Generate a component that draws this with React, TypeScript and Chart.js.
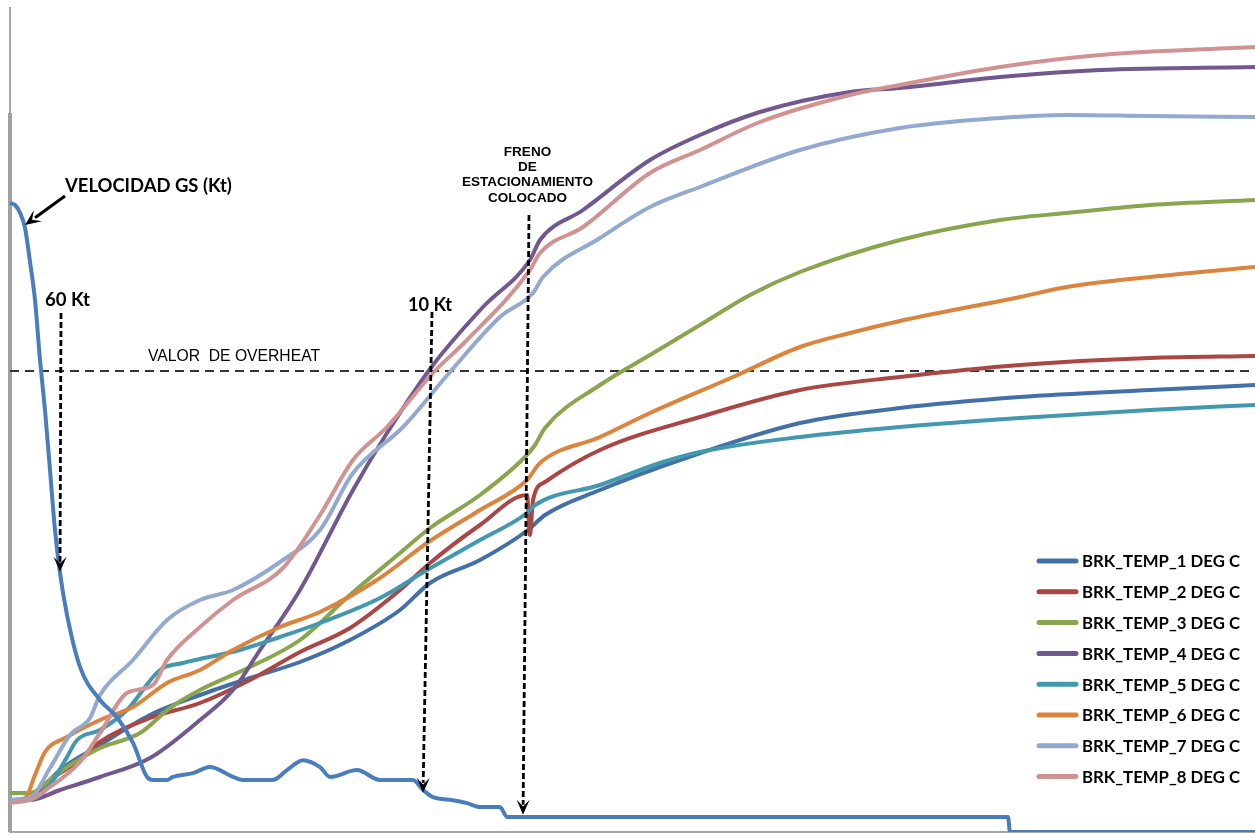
import React, { useEffect, useRef } from "react";
import { Chart, registerables } from "chart.js";

Chart.register(...registerables);

type Pt = [number, number];

// x: time since touchdown (chart units), y: brake temperature (chart units)
const brkTemp1: Pt[] = [[0,32],[15,32],[30,42],[50,62],[90,87],[140,117],[190,137],[240,154],[290,170],[340,192],[390,222],[420,249],[470,272],[518,302],[535,317],[590,342],[670,372],[790,409],[890,424],[1010,435],[1140,442],[1245,447]];
const brkTemp2: Pt[] = [[0,32],[20,34],[40,52],[70,72],[90,90],[140,114],[190,129],[240,152],[290,180],[340,204],[390,242],[420,269],[470,307],[517,337],[520,297],[523,332],[535,350],[590,382],[690,415],[790,442],[890,455],[1010,467],[1140,474],[1245,476]];
const brkTemp3: Pt[] = [[0,39],[20,39],[40,52],[60,67],[90,84],[130,99],[160,124],[190,142],[240,165],[290,192],[340,237],[390,279],[420,304],[470,337],[515,375],[525,387],[535,404],[590,447],[640,477],[690,507],[740,537],[790,560],[890,592],[990,612],[1057,619],[1140,627],[1245,632]];
const brkTemp4: Pt[] = [[0,32],[20,32],[50,42],[90,55],[140,74],[190,112],[223,142],[250,182],[290,242],[343,342],[377,399],[423,467],[473,525],[520,572],[530,592],[573,622],[640,672],[690,697],[750,720],[840,740],[890,744],[990,755],[1090,762],[1245,765]];
const brkTemp5: Pt[] = [[0,32],[20,32],[40,47],[57,75],[67,92],[90,102],[117,122],[150,162],[173,169],[230,182],[270,195],[310,209],[370,234],[417,262],[470,292],[517,319],[525,327],[590,347],[650,369],[690,380],[790,395],[890,405],[1010,414],[1140,422],[1245,427]];
const brkTemp6: Pt[] = [[0,32],[15,34],[25,57],[35,80],[57,95],[90,112],[123,125],[157,149],[190,162],[223,182],[270,205],[310,220],[370,254],[417,289],[470,322],[517,352],[530,369],[590,395],[640,419],[723,455],[790,485],[840,499],[890,511],[1010,535],[1057,545],[1140,555],[1245,565]];
const brkTemp7: Pt[] = [[0,32],[20,34],[40,64],[60,97],[80,114],[90,137],[123,172],[157,212],[190,232],[223,242],[273,272],[310,302],[343,359],[393,405],[440,460],[490,515],[523,539],[533,555],[590,594],[640,625],[690,645],[790,682],[890,704],[990,714],[1057,717],[1140,716],[1245,715]];
const brkTemp8: Pt[] = [[0,29],[20,32],[40,45],[70,70],[90,99],[117,139],[143,147],[157,172],[190,205],[223,232],[273,264],[310,317],[343,372],[377,405],[423,459],[457,492],[520,562],[530,579],[573,605],[640,659],[690,682],[750,710],[840,737],[890,747],[990,765],[1090,777],[1245,785]];

// ground speed in knots
const velocityGS: Pt[] = [[0,146.3],[5,145.8],[10,144.0],[15,140.5],[20,132.6],[25,123.7],[30,109.8],[35,98.1],[40,84.2],[45,70.2],[50,60.2],[57,50.5],[70,38.4],[90,30.7],[107,26.7],[123,20.7],[137,12.8],[143,12.1],[157,12.1],[163,12.8],[183,13.7],[200,15.1],[223,12.8],[233,12.1],[263,12.1],[277,14.4],[293,16.7],[310,15.1],[320,12.8],[347,14.4],[370,12.1],[403,12.1],[413,9.8],[423,8.1],[443,7.4],[457,6.7],[470,5.8],[490,5.8],[497,3.5],[998,3.5],[1000,0],[1245,0]];

const seriesNames = ["BRK_TEMP_1 DEG C","BRK_TEMP_2 DEG C","BRK_TEMP_3 DEG C","BRK_TEMP_4 DEG C","BRK_TEMP_5 DEG C","BRK_TEMP_6 DEG C","BRK_TEMP_7 DEG C","BRK_TEMP_8 DEG C"];
const seriesData = [brkTemp1, brkTemp2, brkTemp3, brkTemp4, brkTemp5, brkTemp6, brkTemp7, brkTemp8];
const seriesColors = ["#4470A8","#AA4643","#89A54E","#71588F","#4198AF","#DB843D","#93A9CF","#D19392"];
const velocityColor = "#4A7EBB";

const overheatLevel = 461;
const timeRange: Pt = [0, 1245];
const tempRange: Pt = [0, 824];
const speedRange: Pt = [0, 191.6];

// event markers: arrow top (time, temp), arrow tip (time, speed)
const eventTimesTop = [51, 422, 519];
const eventTempsTop = [519, 520, 617];
const eventTimesTip = [50, 413, 513];
const eventSpeedsTip = [60.5, 9.1, 4.0];

const toXY = (arr: Pt[]) => arr.map(([x, y]) => ({ x, y }));

const FONT_BOLD = "'Lato', 'Liberation Sans', sans-serif";
const FONT_ARIAL = "'Liberation Sans', Arial, sans-serif";

function fitFont(ctx: CanvasRenderingContext2D, text: string, weight: string, family: string, width: number) {
  ctx.font = `${weight} 20px ${family}`;
  const w = ctx.measureText(text).width;
  return `${weight} ${((20 * width) / w).toFixed(2)}px ${family}`;
}

function arrowHead(ctx: CanvasRenderingContext2D, tx: number, ty: number, fx: number, fy: number, len = 15, half = 6.5) {
  const ang = Math.atan2(ty - fy, tx - fx);
  ctx.save();
  ctx.translate(tx, ty);
  ctx.rotate(ang);
  ctx.setLineDash([]);
  ctx.beginPath();
  ctx.moveTo(0, 0);
  ctx.lineTo(-len, -half);
  ctx.lineTo(-len * 0.55, 0);
  ctx.lineTo(-len, half);
  ctx.closePath();
  ctx.fill();
  ctx.restore();
}

const annotationPlugin = {
  id: "brkAnnotations",
  beforeDatasetsDraw(chart: any) {
    const { ctx, chartArea, scales } = chart;
    const y = scales.y;
    ctx.save();
    ctx.fillStyle = "#A0A0A0";
    const yTop = y.getPixelForValue(719);
    ctx.fillRect(chartArea.left - 2, yTop, 4, chartArea.bottom - yTop);
    ctx.restore();
  },
  afterDatasetsDraw(chart: any) {
    const { ctx, scales } = chart;
    const x = scales.x, y = scales.y, yv = scales.yv;
    ctx.save();
    ctx.fillStyle = "#000";
    ctx.strokeStyle = "#000";
    ctx.textBaseline = "middle";

    for (let i = 0; i < eventTimesTop.length; i++) {
      const x0 = x.getPixelForValue(eventTimesTop[i]);
      const y0 = y.getPixelForValue(eventTempsTop[i]);
      const x1 = x.getPixelForValue(eventTimesTip[i]);
      const y1 = yv.getPixelForValue(eventSpeedsTip[i]);
      ctx.lineWidth = 2.8;
      ctx.setLineDash([6, 3]);
      ctx.beginPath();
      ctx.moveTo(x0, y0);
      ctx.lineTo(x1 + (x0 - x1) * (10 / (y1 - y0)), y1 - 10);
      ctx.stroke();
      arrowHead(ctx, x1, y1, x0, y0);
    }

    {
      const fx = x.getPixelForValue(55), fy = y.getPixelForValue(636);
      const tx = x.getPixelForValue(15), ty = y.getPixelForValue(607);
      ctx.setLineDash([]);
      ctx.lineWidth = 3;
      ctx.beginPath();
      ctx.moveTo(fx, fy);
      ctx.lineTo(tx + (fx - tx) * 0.25, ty + (fy - ty) * 0.25);
      ctx.stroke();
      arrowHead(ctx, tx, ty, fx, fy, 16, 7);
    }

    ctx.textAlign = "left";
    ctx.font = fitFont(ctx, "VELOCIDAD GS (Kt)", "bold", FONT_BOLD, 167);
    ctx.fillText("VELOCIDAD GS (Kt)", x.getPixelForValue(55), y.getPixelForValue(646));
    ctx.font = fitFont(ctx, "60 Kt", "bold", FONT_BOLD, 45);
    ctx.fillText("60 Kt", x.getPixelForValue(35), y.getPixelForValue(532));
    ctx.font = fitFont(ctx, "10 Kt", "bold", FONT_BOLD, 44);
    ctx.fillText("10 Kt", x.getPixelForValue(398), y.getPixelForValue(527));
    ctx.font = fitFont(ctx, "VALOR  DE OVERHEAT", "normal", FONT_ARIAL, 172);
    ctx.fillText("VALOR  DE OVERHEAT", x.getPixelForValue(138), y.getPixelForValue(475));

    ctx.textAlign = "center";
    const freno = ["FRENO", "DE", "ESTACIONAMIENTO", "COLOCADO"];
    const frenoTemps = [680, 665, 649.5, 634];
    ctx.font = fitFont(ctx, "ESTACIONAMIENTO", "bold", FONT_ARIAL, 131);
    freno.forEach((t, i) => ctx.fillText(t, x.getPixelForValue(517.5), y.getPixelForValue(frenoTemps[i])));

    ctx.textAlign = "left";
    const legFont = fitFont(ctx, seriesNames[0], "bold", FONT_BOLD, 158);
    for (let i = 0; i < seriesNames.length; i++) {
      const ly = 561 + i * 30.8;
      ctx.setLineDash([]);
      ctx.strokeStyle = seriesColors[i];
      ctx.lineWidth = 5;
      ctx.lineCap = "round";
      ctx.beginPath();
      ctx.moveTo(1039, ly);
      ctx.lineTo(1076, ly);
      ctx.stroke();
      ctx.fillStyle = "#000";
      ctx.font = legFont;
      ctx.fillText(seriesNames[i], 1082, ly + 1);
    }
    ctx.restore();
  },
};

export default function App() {
  const ref = useRef<HTMLCanvasElement>(null);
  useEffect(() => {
    const datasets: any[] = seriesData.map((d, i) => ({
      label: seriesNames[i],
      data: toXY(d),
      borderColor: seriesColors[i],
      backgroundColor: seriesColors[i],
      borderWidth: 4,
      pointRadius: 0,
      cubicInterpolationMode: "monotone",
      yAxisID: "y",
      order: 8 - i,
    }));
    datasets.push({
      label: "VELOCIDAD GS (Kt)",
      data: toXY(velocityGS),
      borderColor: velocityColor,
      backgroundColor: velocityColor,
      borderWidth: 4,
      pointRadius: 0,
      cubicInterpolationMode: "monotone",
      yAxisID: "yv",
      order: 0,
    });
    datasets.push({
      label: "VALOR DE OVERHEAT",
      data: [{ x: timeRange[0], y: overheatLevel }, { x: 1240, y: overheatLevel }],
      borderColor: "#333333",
      borderWidth: 2,
      borderDash: [9, 6],
      pointRadius: 0,
      yAxisID: "y",
      order: 20,
    });
    const chart = new Chart(ref.current!, {
      type: "line",
      data: { datasets },
      options: {
        responsive: false,
        devicePixelRatio: 1,
        animation: false,
        layout: { padding: { left: 10, top: 8, right: 0, bottom: 3 } },
        plugins: { legend: { display: false }, tooltip: { enabled: false } },
        scales: {
          x: {
            type: "linear",
            min: timeRange[0],
            max: timeRange[1],
            grid: { display: false, drawTicks: false },
            ticks: { display: false },
            border: { display: true, color: "#A6A6A6", width: 2 },
          },
          y: {
            type: "linear",
            min: tempRange[0],
            max: tempRange[1],
            grid: { display: false, drawTicks: false },
            ticks: { display: false },
            border: { display: true, color: "#A6A6A6", width: 2 },
          },
          yv: {
            type: "linear",
            position: "right",
            min: speedRange[0],
            max: speedRange[1],
            display: false,
          },
        },
      } as any,
      plugins: [annotationPlugin],
    });
    return () => chart.destroy();
  }, []);
  return (
    <div style={{ position: "absolute", left: 0, top: 0, width: 1255, height: 835, background: "#fff" }}>
      <canvas ref={ref} width={1255} height={835} style={{ display: "block" }} />
    </div>
  );
}
